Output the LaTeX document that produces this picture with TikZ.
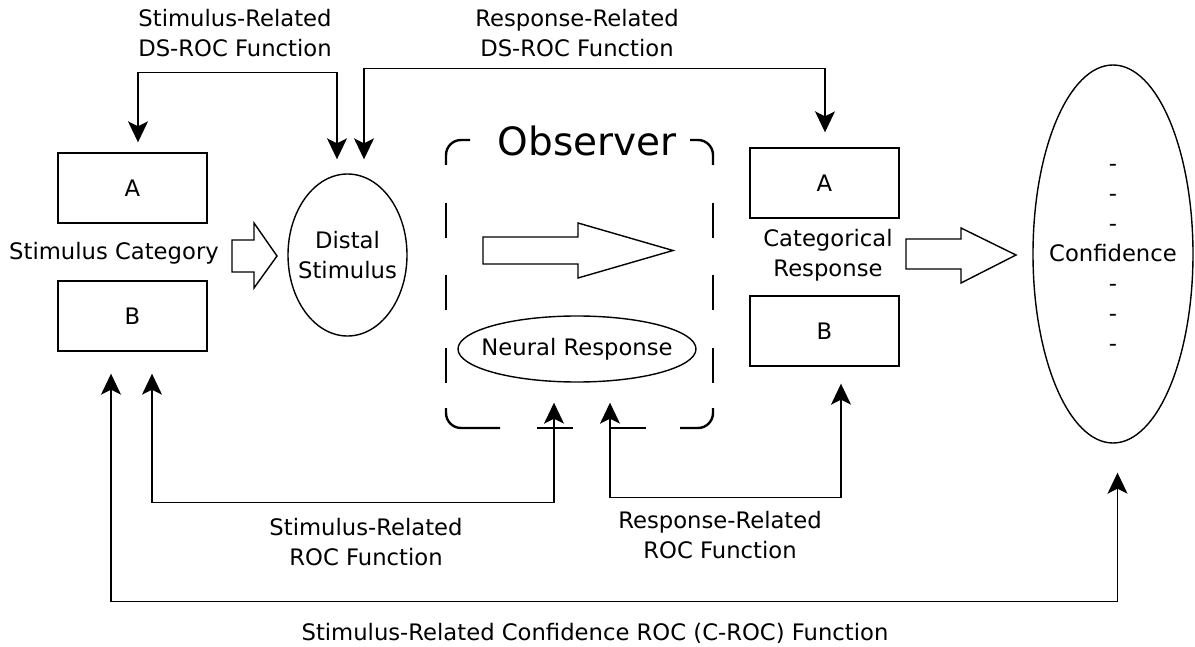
\documentclass[tikz,border=0pt]{standalone}
\usepackage{fontspec}
\setmainfont{DejaVu Sans}
\usetikzlibrary{arrows.meta,calc,shapes.geometric}
\begin{document}
\begin{tikzpicture}[x=1pt,y=-1pt,line width=1.4pt,
  txt/.style={font=\fontsize{22.7}{30}\selectfont,align=center,inner sep=0pt},
  boxnode/.style={draw,txt,minimum width=149pt,minimum height=70pt},
  oval/.style={draw,ellipse,inner sep=0pt},
  hollow/.style={draw,fill=white,line width=1.4pt,line join=miter},
  tip/.tip={Stealth[length=21pt,width=20pt,inset=5pt,fill=black]},
  conn/.style={line width=1.4pt,tip-tip},
  obsline/.style={draw,line width=2.4pt,rounded corners=15pt}]
\useasboundingbox (0,0) rectangle (1195,647);

% observer (border drawn as dashed pieces)
\node[minimum width=267pt,minimum height=288pt,inner sep=0pt] (obs) at (579.5,284) {};
\draw[obsline] (446,165) -- (446,140) -- (470,140);
\draw[obsline] (690,140) -- (713,140) -- (713,165);
\draw[obsline] (446,408) -- (446,428) -- (500,428);
\draw[obsline] (680,428) -- (713,428) -- (713,408);
\foreach \ya in {203,275,348} {
  \draw[obsline] (446,\ya) -- ++(0,35);
  \draw[obsline] (713,\ya) -- ++(0,35);
}
\foreach \xa in {537,610} {
  \draw[obsline] (\xa,428) -- ++(36,0);
}
\node[font=\fontsize{39}{40}\selectfont,inner sep=0pt] (otitle) at (587,141) {Observer};
\draw[hollow] (483,237) -- (578,237) -- (578,223) -- (673,250.5) -- (578,278) -- (578,264) -- (483,264) -- cycle;
\node[oval,minimum width=238pt,minimum height=66pt] (nr) at (577,349) {};
\node[txt] (nrt) at (nr.center) {Neural Response};

% stimulus side
\node[boxnode] (sa) at (132.5,188) {A};
\node[boxnode] (sb) at (132.5,316) {B};
\node[txt] (sc) at (114,253) {Stimulus Category};
\draw[hollow] (232,240) -- (254,240) -- (254,223) -- (277,256) -- (254,288) -- (254,272) -- (232,272) -- cycle;
\node[oval,minimum width=119pt,minimum height=162pt] (ds) at (347.5,255) {};
\node[txt] (dst) at (ds.center) {Distal\\Stimulus};

% response side
\node[boxnode] (ra) at (824.5,183) {A};
\node[boxnode] (rb) at (824.5,331) {B};
\node[txt] (cr) at (828,255) {Categorical\\Response};
\draw[hollow] (906,239) -- (961,239) -- (961,228) -- (1016,255) -- (961,283) -- (961,269) -- (906,269) -- cycle;
\node[oval,minimum width=160pt,minimum height=378pt] (conf) at (1113,254) {};
\node[txt] (conft) at ($(conf.center)+(0,4)$) {-\\-\\-\\Confidence\\-\\-\\-};

% connector end points
\coordinate (t1) at ($(ds.north)+(-10.5,-14)$);
\coordinate (t2) at ($(ds.north)+(16.5,-14)$);
\coordinate (t3) at ($(sa.north)+(5.5,-10)$);
\coordinate (t4) at ($(ra.north)+(0.5,-15)$);
\coordinate (t5) at ($(sb.south)+(19.5,22)$);
\coordinate (t6) at ($(obs.south)+(-25.5,-26)$);
\coordinate (t7) at ($(obs.south)+(30.5,-26)$);
\coordinate (t8) at ($(rb.south)+(16.5,17)$);
\coordinate (t9) at ($(sb.south)+(-21.5,22)$);
\coordinate (t10) at ($(conf.south)+(4.5,29)$);

\draw[conn] (t1) -- ++(0,-87) -| (t3);
\draw[conn] (t2) -- ++(0,-91) -| (t4);
\draw[conn] (t5) -- ++(0,129) -| (t6);
\draw[conn] (t7) -- ++(0,95) -| (t8);
\draw[conn] (t9) -- ++(0,228) -| (t10);

% labels
\node[txt] (l1) at (235,33) {Stimulus-Related\\DS-ROC Function};
\node[txt] (l2) at (577,33) {Response-Related\\DS-ROC Function};
\node[txt] (l3) at (366,542) {Stimulus-Related\\ROC Function};
\node[txt] (l4) at (720,535) {Response-Related\\ROC Function};
\node[txt] (l5) at (595,633) {Stimulus-Related Confidence ROC (C-ROC) Function};
\end{tikzpicture}
\end{document}
